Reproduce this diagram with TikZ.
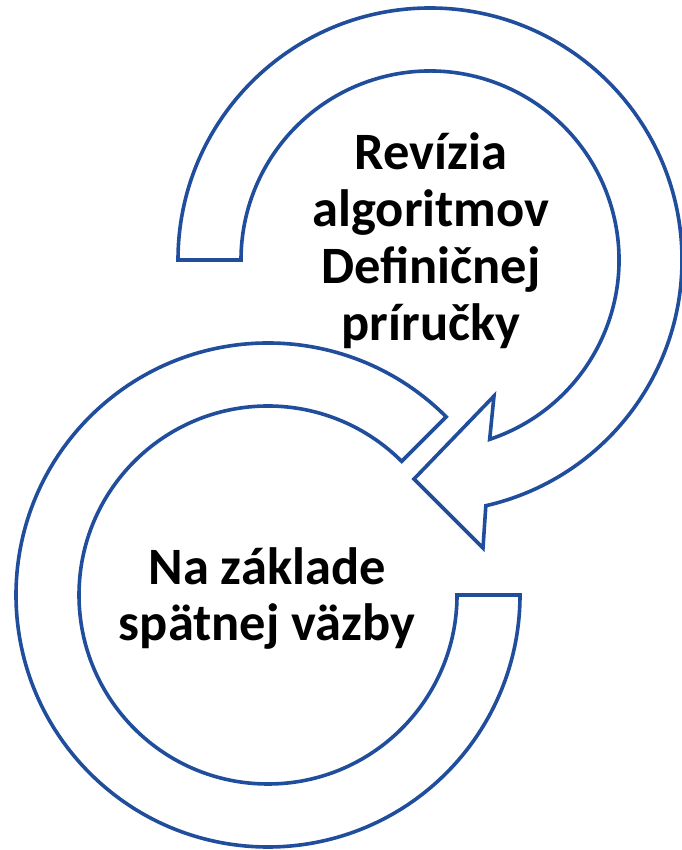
\documentclass[tikz,border=0pt]{standalone}
\usepackage{fontspec}
\setmainfont{Carlito}
\usetikzlibrary{calc}
\definecolor{ringblue}{RGB}{32,78,156}
\tikzset{
  ring/.style={draw=ringblue, line width=3.6pt, fill=white, line join=miter},
  lbl/.style={anchor=base, inner sep=0pt, font=\fontsize{52.5}{60}\selectfont\bfseries, text=black}
}
\begin{document}
\begin{tikzpicture}[x=1pt,y=1pt]
\useasboundingbox (0,0) rectangle (681,850);
\coordinate (c1) at (430,590);
\coordinate (c2) at (268,255);
% top ring with arrowhead
\draw[ring] ($(c1)+(180:252)$) arc[start angle=180, end angle=-77.2, radius=252]
  -- (483,302) -- (414,371) -- (494,454)
  -- ($(c1)+(-71.6:189)$) arc[start angle=-71.6, end angle=180, radius=189] -- cycle;
% bottom ring
\draw[ring] ($(c2)+(45:252)$) arc[start angle=45, end angle=360, radius=252]
  -- ($(c2)+(0:189)$) arc[start angle=360, end angle=45, radius=189] -- cycle;
% texts
\node[lbl] (t1) at (431,680) {Revízia};
\node[lbl] (t2) at (431,623) {algoritmov};
\node[lbl] (t3) at (431,566) {Definičnej};
\node[lbl] (t4) at (431,509) {príručky};
\node[lbl] (b1) at (267,265) {Na základe};
\node[lbl] (b2) at (267,209) {spätnej väzby};
\end{tikzpicture}
\end{document}
